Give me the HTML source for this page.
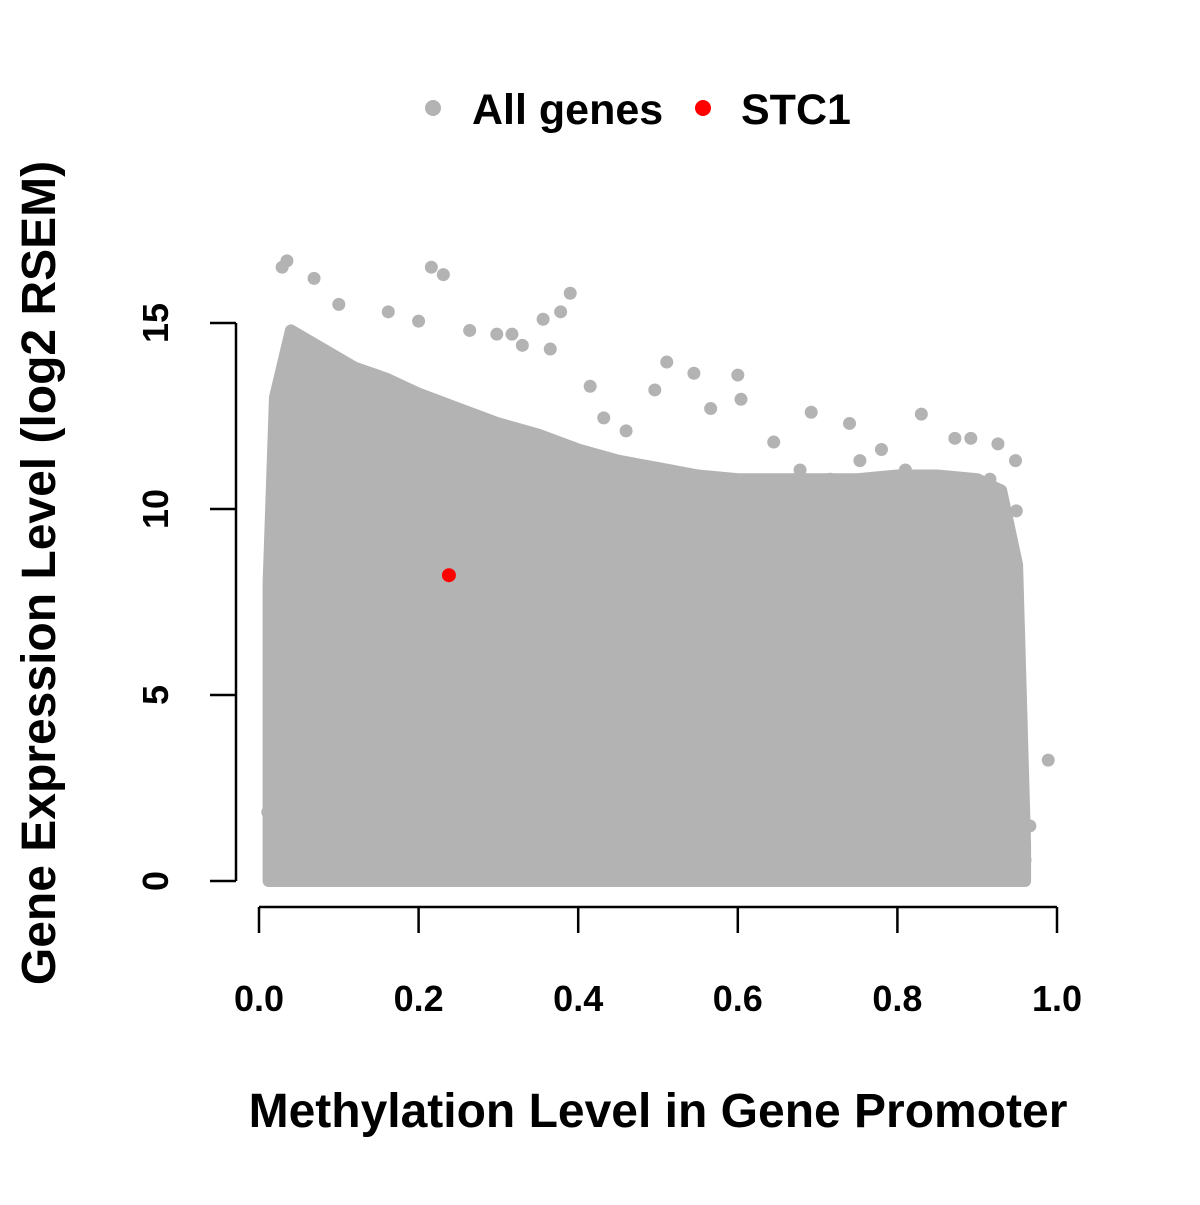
<!DOCTYPE html>
<html><head><meta charset="utf-8"><style>
html,body{margin:0;padding:0;background:#fff;}
svg text{font-family:"Liberation Sans",Arial,sans-serif;font-weight:bold;fill:#000;}
</style></head><body>
<svg id="chart" width="1200" height="1200" viewBox="0 0 1200 1200" xmlns="http://www.w3.org/2000/svg">
<g id="plot"></g>
<g id="axes"></g>
<g>
  <circle cx="433" cy="108" r="8" fill="#b3b3b3"/>
  <text x="472" y="124" font-size="43">All genes</text>
  <circle cx="703" cy="108" r="8" fill="#ff0000"/>
  <text x="741" y="124" font-size="43">STC1</text>
</g>
<text x="658" y="1127" font-size="48" text-anchor="middle">Methylation Level in Gene Promoter</text>
<text transform="translate(55,573) rotate(-90)" font-size="48" text-anchor="middle">Gene Expression Level (log2 RSEM)</text>
</svg>
<script>
// Density envelope of the dense "All genes" cloud (methylation x, upper expression bound)
const envX = [0.012,0.02,0.04,0.08,0.12,0.16,0.2,0.25,0.3,0.35,0.4,0.45,0.5,0.55,0.6,0.65,0.7,0.75,0.8,0.85,0.9,0.93,0.95,0.96];
const envTop = [8,13,14.8,14.3,13.8,13.5,13.1,12.7,12.3,12.0,11.6,11.3,11.1,10.9,10.8,10.8,10.8,10.8,10.9,10.9,10.8,10.5,8.5,1.0];
// Sparse outlying genes
const outX = [0.035,0.029,0.069,0.216,0.231,0.39,0.378,0.356,0.162,0.2,0.1,0.264,0.298,0.317,0.33,0.365,0.511,0.545,0.6,0.566,0.604,0.692,0.83,0.74,0.645,0.872,0.892,0.926,0.948,0.989,0.966,0.96,0.011,0.015,0.016,0.954,0.951,0.945,0.949,0.496,0.432,0.46,0.415,0.78,0.81,0.753,0.678,0.716,0.878,0.916,0.928];
const outY = [16.67,16.5,16.2,16.5,16.3,15.8,15.3,15.1,15.3,15.05,15.5,14.8,14.7,14.7,14.4,14.3,13.95,13.65,13.6,12.7,12.95,12.6,12.55,12.3,11.8,11.9,11.9,11.75,11.3,3.25,1.48,0.56,1.85,1.3,0.75,4.95,6.6,7.8,9.95,13.2,12.45,12.1,13.3,11.6,11.05,11.3,11.05,10.8,10.25,10.8,9.7];
const stcX = [0.238];
const stcY = [8.22];
const xTicks = [0,0.2,0.4,0.6,0.8,1.0];
const xTickLabels = ["0.0","0.2","0.4","0.6","0.8","1.0"];
const yTicks = [0,5,10,15];
const yTickLabels = ["0","5","10","15"];

const NS = "http://www.w3.org/2000/svg";
const sx = v => 259 + 798 * v;
const sy = v => 881 - 37.2 * v;
const plot = document.getElementById('plot');
const axes = document.getElementById('axes');
function mk(tag, attrs, parent){const e=document.createElementNS(NS,tag);for(const k in attrs)e.setAttribute(k,attrs[k]);parent.appendChild(e);return e;}

let pts = [];
for (let i=0;i<envX.length;i++) pts.push(sx(envX[i])+','+sy(envTop[i]));
pts.push(sx(envX[envX.length-1])+','+sy(0));
pts.push(sx(envX[0])+','+sy(0));
const cloud = mk('polygon',{points:pts.join(' '),fill:'#b3b3b3',stroke:'#b3b3b3','stroke-width':12,'stroke-linejoin':'round'},plot);



for (let i=0;i<outX.length;i++){
  const c = mk('circle',{cx:sx(outX[i]),cy:sy(outY[i]),r:6.5,fill:'#b3b3b3'},plot);
  
  
}
for (let i=0;i<stcX.length;i++){
  const c = mk('circle',{cx:sx(stcX[i]),cy:sy(stcY[i]),r:7,fill:'#ff0000'},plot);
  
  
}

const xl = mk('line',{x1:sx(xTicks[0]),x2:sx(xTicks[xTicks.length-1]),y1:907,y2:907,stroke:'#000','stroke-width':2.5},axes);


for (let i=0;i<xTicks.length;i++){
  const t = mk('line',{x1:sx(xTicks[i]),x2:sx(xTicks[i]),y1:907,y2:933,stroke:'#000','stroke-width':2.5},axes);
  
  
  const l = mk('text',{x:sx(xTicks[i]),y:1011,'font-size':36,'text-anchor':'middle'},axes);
  l.textContent = xTickLabels[i];
  
  
}
const yl = mk('line',{x1:236,x2:236,y1:sy(yTicks[0]),y2:sy(yTicks[yTicks.length-1]),stroke:'#000','stroke-width':2.5},axes);


for (let i=0;i<yTicks.length;i++){
  const t = mk('line',{x1:210,x2:236,y1:sy(yTicks[i]),y2:sy(yTicks[i]),stroke:'#000','stroke-width':2.5},axes);
  
  
  const l = mk('text',{transform:'translate(168,'+sy(yTicks[i])+') rotate(-90)','font-size':36,'text-anchor':'middle'},axes);
  l.textContent = yTickLabels[i];
  
  
}
</script>
</body></html>
